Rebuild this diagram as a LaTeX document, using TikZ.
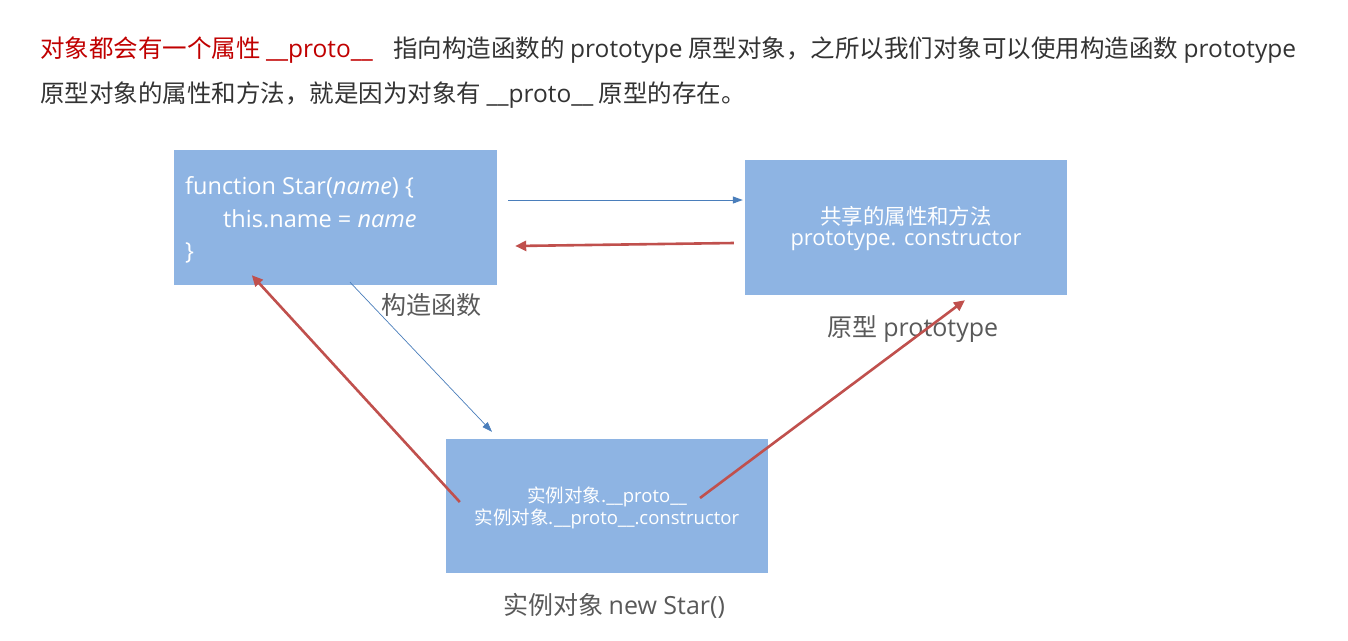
\documentclass[tikz,border=0pt]{standalone}
\usepackage{fontspec}
\setmainfont{Noto Sans CJK SC}[AutoFakeSlant=0.2]
\newfontfamily\latf{Open Sans}
\newcommand{\lat}[1]{{\latf #1}}
\usetikzlibrary{arrows.meta,calc}
\definecolor{boxfill}{HTML}{8EB4E3}
\definecolor{redarrow}{HTML}{C0504D}
\definecolor{bluearrow}{HTML}{4A7EBB}
\definecolor{labelgray}{HTML}{595959}
\definecolor{headred}{HTML}{C00000}
\definecolor{headdark}{HTML}{333333}
\tikzset{
  box/.style={fill=boxfill, draw=none, inner sep=0pt, minimum width=323pt, minimum height=135pt},
  boxtext/.style={text=white, inner sep=0pt},
  lbl/.style={text=labelgray, inner sep=0pt, font=\fontsize{25}{30}\selectfont},
  head/.style={inner sep=0pt, anchor=base west, font=\fontsize{24.5}{29}\selectfont},
  redarr/.style={draw=redarrow, line width=2.6pt, -{Triangle[length=11pt,width=10pt]}},
  bluearr/.style={draw=bluearrow, line width=1pt, -{Triangle[length=10pt,width=7pt]}},
}
\begin{document}
\begin{tikzpicture}[x=1pt,y=-1pt]
\useasboundingbox (0,0) rectangle (1348,640);
% header
\node[head, text=headred] (h1) at (40,57) {对象都会有一个属性 \lat{\_\_proto\_\_}};
\node[head, text=headdark] (h2) at (393,57) {指向构造函数的 \lat{prototype} 原型对象，之所以我们对象可以使用构造函数 \lat{prototype}};
\node[head, text=headdark] (h3) at (40,102) {原型对象的属性和方法，就是因为对象有 \lat{\_\_proto\_\_} 原型的存在。};
% boxes
\node[box] (A) at (335.5,217.5) {};
\node[box, minimum width=322pt] (B) at (906,227.5) {};
\node[box, minimum width=322pt, minimum height=134pt] (C) at (607,506) {};
% box A text
\node[boxtext, anchor=base west, font=\latf\fontsize{23.5}{28}\selectfont] (a1) at (185,194) {function Star(\textit{name}) \{};
\node[boxtext, anchor=base west, font=\latf\fontsize{23.5}{28}\selectfont] (a2) at (223,227) {this.name = \textit{name}};
\node[boxtext, anchor=base west, font=\latf\fontsize{23.5}{28}\selectfont] (a3) at (185,259) {\}};
% box B text
\node[boxtext, font=\fontsize{21.4}{25}\selectfont] (b1) at (906,216) {共享的属性和方法};
\node[boxtext, font=\latf\fontsize{21.8}{25}\selectfont] (b2) at (906,241) {prototype. constructor};
% box C text
\node[boxtext, font=\fontsize{18.5}{22}\selectfont] (c1) at (607,497) {实例对象.\lat{\_\_proto\_\_}};
\node[boxtext, font=\fontsize{18.5}{22}\selectfont] (c2) at (607,519) {实例对象.\lat{\_\_proto\_\_.constructor}};
% labels
\node[lbl] (la) at (431,305) {构造函数};
\node[lbl] (lb) at (913,329) {原型 \lat{prototype}};
\node[lbl] (lc) at (614,606) {实例对象 \lat{new Star()}};
% connectors
\draw[bluearr] ($(A.east)+(11,-17.5)$) -- ($(B.west)+(-2,-27.5)$);
\draw[redarr] ($(B.west)+(-11,15.5)$) -- ($(A.east)+(18,28.5)$);
\draw[bluearr, line width=0.7pt] ($(A.south)+(14.5,-3)$) -- ($(C.north)+(-115,-7)$);
\draw[redarr] ($(C.west)+(14,-4)$) -- ($(A.south west)+(78,-10)$);
\draw[redarr] ($(C.center)+(93,-8)$) -- ($(B.south)+(59,5)$);
\end{tikzpicture}
\end{document}
